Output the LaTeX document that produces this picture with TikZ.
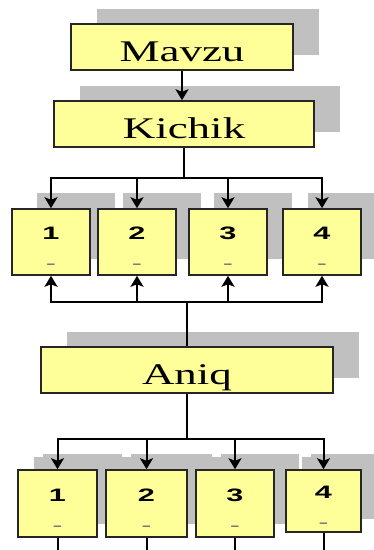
\documentclass[tikz,border=0pt]{standalone}
\usepackage{fontspec}
\setmainfont{Liberation Serif}
\newfontfamily\numfont{Liberation Sans}
\usepackage{tikz}
\usetikzlibrary{shapes,shadows,arrows.meta}
\definecolor{boxYellow}{HTML}{FFFF99}
\definecolor{shadowGray}{HTML}{C0C0C0}
\newcommand{\widetext}[2][1.5]{\scalebox{#1}[1]{#2}}
\newcommand{\cellnum}[1]{\rule{0pt}{25pt}\widetext[1.7]{\bfseries #1}\\[10pt]{\color{black!55}\widetext[1.7]{-}}}
\tikzstyle{topic} = [rectangle, draw=black!85, line width=1.5pt, fill=boxYellow, minimum height=46pt,
inner sep=0pt, text height=29pt, text depth=0pt, font=\fontsize{30}{32}\selectfont,
drop shadow={shadow xshift=26pt, shadow yshift=15pt, fill=shadowGray, opacity=1}]
\tikzstyle{cellUp} = [rectangle, draw=black!85, line width=1.5pt, fill=boxYellow, minimum width=78pt,
minimum height=66pt, inner sep=0pt, align=center, font=\numfont\fontsize{18}{20}\selectfont,
drop shadow={shadow xshift=25pt, shadow yshift=16pt, fill=shadowGray, opacity=1}]
\tikzstyle{cellLow} = [cellUp, drop shadow={shadow xshift=16pt, shadow yshift=13pt, fill=shadowGray, opacity=1}]
\tikzstyle{flowLine} = [line width=2pt]
\tikzstyle{flowArrow} = [line width=2pt,-{Stealth[length=11pt,width=13pt,inset=2.5pt]}]

\begin{document}
\begin{tikzpicture}[x=1pt,y=-1pt]
		\useasboundingbox (0,0) rectangle (374,550);
		%blocks
		\node[topic, minimum width=222pt](mavzu) at (182,47){\widetext{Mavzu}};
		\node[topic, minimum width=260pt](kichik) at (184,124){\widetext{Kichik}};
		\node[cellUp](k1) at (51,242){\cellnum{1}};
		\node[cellUp](k2) at (137,242){\cellnum{2}};
		\node[cellUp](k3) at (228,242){\cellnum{3}};
		\node[cellUp](k4) at (322,242){\cellnum{4}};
		\node[topic, minimum width=292pt](aniq) at (187,370){\widetext{Aniq}};
		\node[cellLow, minimum width=79pt, minimum height=67pt](a1) at (57.5,503.5){\cellnum{1}};
		\node[cellLow, minimum width=81pt, minimum height=67pt](a2) at (146.5,503.5){\cellnum{2}};
		\node[cellLow, minimum height=67pt](a3) at (235,503.5){\cellnum{3}};
		\node[cellLow, minimum width=75pt, minimum height=62pt](a4) at (323.5,501){\cellnum{4}};

		%junctions
		\coordinate (barKichik) at (kichik.south |- 0,178);
		\coordinate (barUp) at (aniq.north |- 0,302);
		\coordinate (barAniq) at (aniq.south |- 0,439);
		\coordinate (end1) at (a1.south |- 0,552);
		\coordinate (end2) at (a2.south |- 0,552);
		\coordinate (end3) at (a3.south |- 0,552);
		\coordinate (end4) at (a4.south |- 0,552);

		%arrows
		\draw[flowArrow](mavzu.south)--(mavzu.south |- kichik.north);
		\draw[flowLine](kichik.south)--(barKichik);
		\draw[flowArrow](barKichik)-|(k1.north);
		\draw[flowArrow](barKichik)-|(k2.north);
		\draw[flowArrow](barKichik)-|(k3.north);
		\draw[flowArrow](barKichik)-|(k4.north);
		\draw[flowLine](aniq.north)--(barUp);
		\draw[flowArrow](barUp)-|(k1.south);
		\draw[flowArrow](barUp)-|(k2.south);
		\draw[flowArrow](barUp)-|(k3.south);
		\draw[flowArrow](barUp)-|(k4.south);
		\draw[flowLine](aniq.south)--(barAniq);
		\draw[flowArrow](barAniq)-|(a1.north);
		\draw[flowArrow](barAniq)-|(a2.north);
		\draw[flowArrow](barAniq)-|(a3.north);
		\draw[flowArrow](barAniq)-|(a4.north);
		\draw[flowLine](a1)--(end1);
		\draw[flowLine](a2)--(end2);
		\draw[flowLine](a3)--(end3);
		\draw[flowLine](a4)--(end4);
	\end{tikzpicture}
\end{document}
